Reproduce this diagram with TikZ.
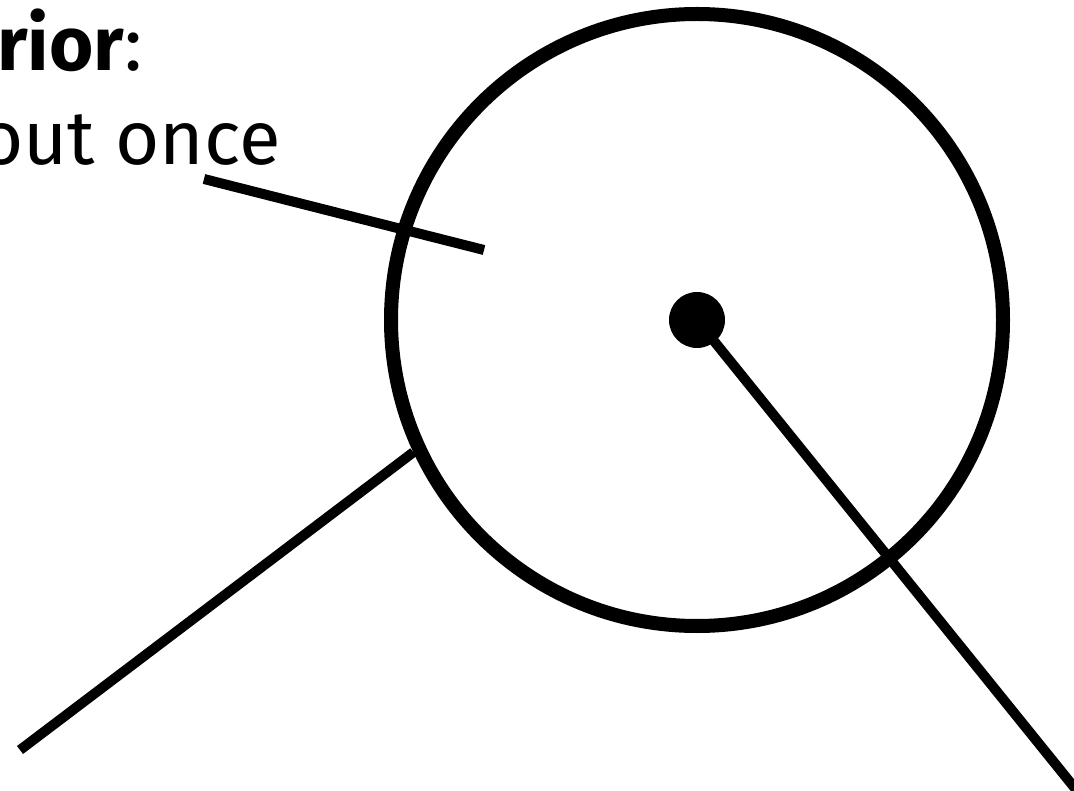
\documentclass[tikz,border=0pt]{standalone}
\usepackage{fontspec}
\setmainfont{Fira Sans}
\begin{document}
\begin{tikzpicture}[x=1pt,y=-1pt,
  ringstyle/.style={circle,draw=black,line width=14pt,minimum size=612pt,inner sep=0pt},
  dotstyle/.style={circle,fill=black,minimum size=56pt,inner sep=0pt},
  stick/.style={line width=10pt,line cap=butt},
  label/.style={anchor=base west,inner sep=0pt,font=\fontsize{76}{90}\selectfont}]
\useasboundingbox (0,0) rectangle (1074,791);
\clip (0,0) rectangle (1074,791);
\node[label] (t1) at (-3,71) {\textbf{rior}:};
\node[label] (t2) at (-21,165) {out once};
\node[ringstyle] (ring) at (697,320) {};
\node[dotstyle] (dot) at (697,320) {};
\coordinate (c1a) at (204,179);
\coordinate (c1b) at (484,250);
\coordinate (c2a) at (20,750);
\coordinate (c3) at (1082,797);
\draw[stick] (c1a) -- (c1b);
\draw[stick] (c2a) -- (ring.205);
\draw[stick] (dot.center) -- (c3);
\end{tikzpicture}
\end{document}
